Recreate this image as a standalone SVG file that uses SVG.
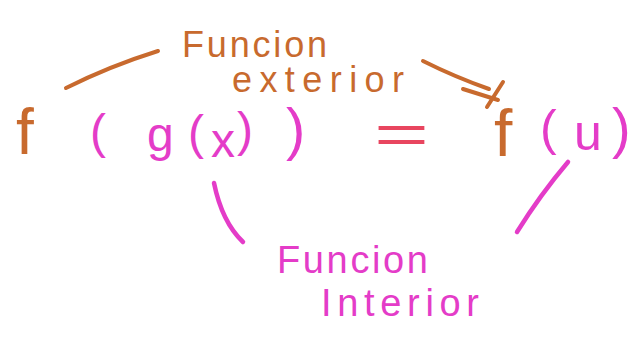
<svg xmlns="http://www.w3.org/2000/svg" width="644" height="337" viewBox="0 0 644 337">
  <style>
    .t { font-family: "Liberation Sans", Arial, sans-serif; }
    .orange { fill: #c86a2e; }
    .mag { fill: #e43cc8; }
    .red { fill: #e8455f; }
    .lo { fill: none; stroke: #c86a2e; stroke-width: 4; stroke-linecap: round; }
    .lm { fill: none; stroke: #e43cc8; stroke-width: 4.5; stroke-linecap: round; }
  </style>
  <rect width="644" height="337" fill="#ffffff"/>

  <g id="connectors">
    <path class="lo" d="M66,88 Q110,66 158,51"/>
    <path class="lo" d="M423,61 Q455,77 489,89"/>
    <path class="lo" d="M463,89 L498,100"/>
    <path class="lo" d="M503,82 L487,107"/>
    <path class="lm" d="M214,183 Q222,222 243,242"/>
    <path class="lm" d="M568,162 Q540,195 517,232"/>
  </g>

  <g id="funcion-exterior">
    <text class="t orange" x="182" y="57" font-size="36" textLength="145" lengthAdjust="spacing">Funcion</text>
    <text class="t orange" x="232" y="92" font-size="36" textLength="172" lengthAdjust="spacing">exterior</text>
  </g>

  <g id="outer-f">
    <text class="t orange" x="16" y="154" font-size="64">f</text>
  </g>

  <g id="inner-g">
    <text class="t mag" font-size="48"><tspan x="90" y="148">(</tspan><tspan x="147" y="151">g</tspan><tspan x="188" y="149">(</tspan><tspan x="211" y="157">x</tspan><tspan x="237" y="146">)</tspan></text>
    <text class="t mag" x="286" y="149" font-size="58">)</text>
  </g>

  <g id="equals">
    <text class="t red" x="374" y="153" font-size="56" textLength="55" lengthAdjust="spacingAndGlyphs">=</text>
  </g>

  <g id="f-u">
    <text class="t orange" x="494" y="156" font-size="66">f</text>
    <text class="t mag" font-size="50"><tspan x="540" y="145">(</tspan><tspan x="574" y="150">u</tspan></text>
    <text class="t mag" x="612" y="147" font-size="56">)</text>
  </g>

  <g id="funcion-interior">
    <text class="t mag" x="277" y="273" font-size="38" textLength="151" lengthAdjust="spacing">Funcion</text>
    <text class="t mag" x="321" y="316" font-size="38" textLength="158" lengthAdjust="spacing">Interior</text>
  </g>
</svg>
